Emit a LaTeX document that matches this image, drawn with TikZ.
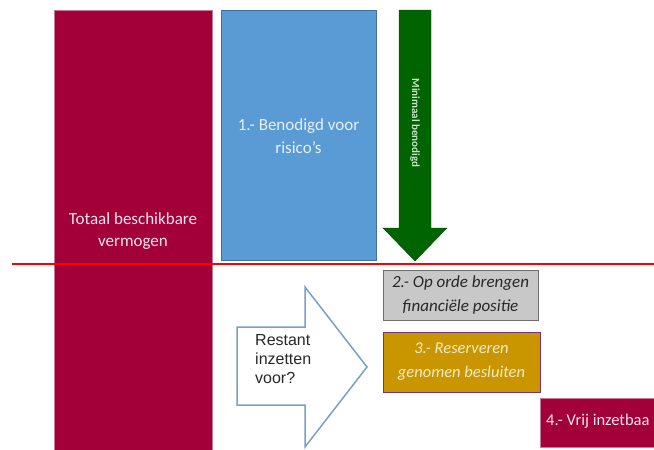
\documentclass[tikz,border=0pt]{standalone}
\usepackage{fontspec}
\setmainfont{Carlito}
\newfontfamily\arialf{Liberation Sans}
\definecolor{crim}{RGB}{163,0,58}
\definecolor{crimedge}{RGB}{200,120,150}
\definecolor{bluef}{RGB}{91,155,213}
\definecolor{blueedge}{RGB}{65,113,156}
\definecolor{greenf}{RGB}{0,100,0}
\definecolor{grayf}{RGB}{200,200,200}
\definecolor{grayedge}{RGB}{110,110,110}
\definecolor{goldf}{RGB}{201,150,0}
\definecolor{goldedge}{RGB}{120,50,120}
\definecolor{outl}{RGB}{120,160,200}
\definecolor{txtdark}{RGB}{40,40,40}
\tikzset{
  block/.style={anchor=north west, inner sep=0pt, outer sep=0pt},
  lbl/.style={align=center, font=\fontsize{17}{22.5}\selectfont, inner sep=0pt},
}
\begin{document}
\begin{tikzpicture}[x=1pt,y=-1pt]
\useasboundingbox (0,0) rectangle (654,450);
\clip (0,0) rectangle (654,450);
\fill[white] (0,0) rectangle (654,450);
% blocks
\node[block, fill=crim, draw=crimedge, line width=0.6pt, minimum width=158pt, minimum height=460pt] (total) at (54,10) {};
\node[block, fill=bluef, draw=blueedge, line width=0.6pt, minimum width=155pt, minimum height=250pt] (need) at (221,10) {};
\node[lbl, text=white!90!crim] (totaltxt) at (133,231) {Totaal beschikbare\\vermogen};
\node[lbl, text=white!85!bluef] (needtxt) at (298.5,136) {1.- Benodigd voor\\risico’s};
% green arrow
\fill[greenf, draw=greenf!70!black, line width=0.4pt] (399,10) -- (431,10) -- (431,228) -- (447,228) -- (415,261) -- (383,228) -- (399,228) -- cycle;
\node[rotate=-90, font=\fontsize{11}{12}\selectfont\bfseries, text=white!80!greenf, inner sep=0pt] (mintxt) at (415,123) {Minimaal benodigd};
% red line
\coordinate (rl) at (12,264);
\coordinate (rr) at (654,264);
\draw[red, line width=1.6pt] (rl) -- (rr);
% boxes right
\node[block, fill=grayf, draw=grayedge, line width=1pt, minimum width=155pt, minimum height=50pt] (b2) at (383,270) {};
\node[lbl, font=\fontsize{17}{24}\selectfont\itshape, text=txtdark] (b2txt) at (460.5,295) {2.- Op orde brengen\\financiële positie};
\node[block, fill=goldf, draw=goldedge, line width=1pt, minimum width=157pt, minimum height=60pt] (b3) at (383,332) {};
\node[lbl, font=\fontsize{16.5}{24}\selectfont\itshape, text=white!80!goldf] (b3txt) at (461.5,362) {3.- Reserveren\\genomen besluiten};
\node[block, fill=crim, draw=crimedge, line width=0.6pt, minimum width=130pt, minimum height=49pt] (b4) at (540,398) {};
\node[anchor=west, font=\fontsize{16.5}{19}\selectfont, text=white!90!crim, inner sep=0pt] (b4txt) at (546,421) {4.- Vrij inzetbaa};
% outline arrow
\draw[outl, line width=1.5pt, fill=white] (237,327) -- (305,327) -- (305,287) -- (367,367) -- (305,447) -- (305,405) -- (237,405) -- cycle;
\node[anchor=north west, align=left, font=\arialf\fontsize{16}{19}\selectfont, text=txtdark, inner sep=0pt] (qtxt) at (255,334) {Restant\\inzetten\\voor?};
\end{tikzpicture}
\end{document}
